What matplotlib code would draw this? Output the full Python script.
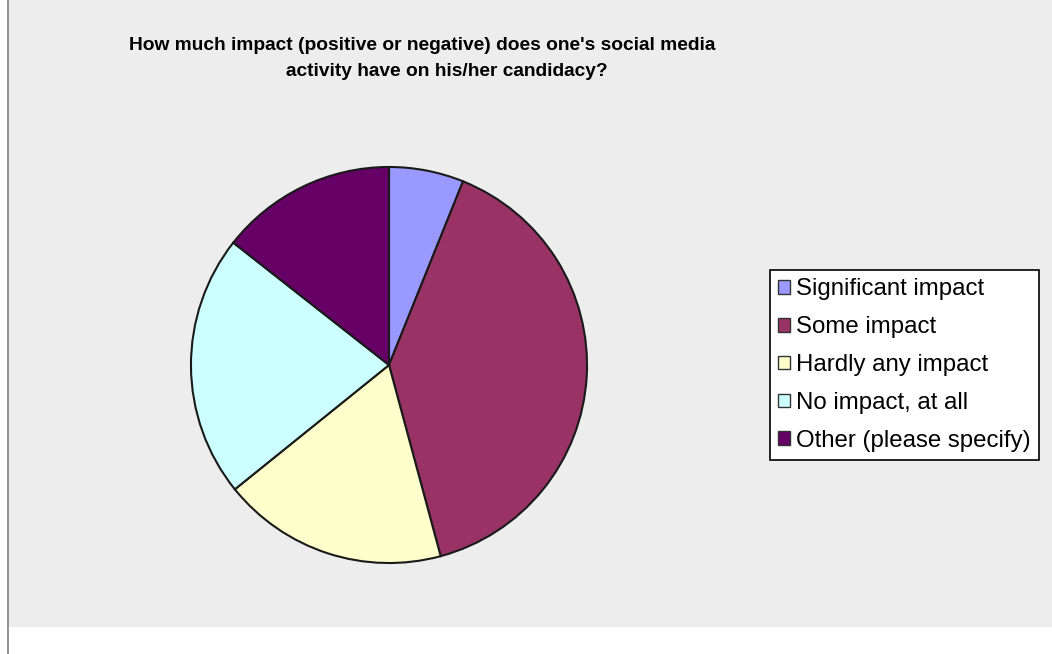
import matplotlib.pyplot as plt
from matplotlib.patches import Rectangle
from matplotlib.lines import Line2D

# survey shares (percent)
labels = ["Significant impact", "Some impact", "Hardly any impact",
          "No impact, at all", "Other (please specify)"]
shares = [6.1, 39.7, 18.4, 21.4, 14.4]
colors = ["#9999FF", "#993366", "#FFFFCC", "#CCFFFF", "#660066"]
title_lines = ["How much impact (positive or negative) does one's social media",
               "activity have on his/her candidacy?"]

W, H = 1052, 654
fig = plt.figure(figsize=(W / 100, H / 100), dpi=100)
fig.patch.set_facecolor("white")

# gray chart area and left border line
fig.add_artist(Rectangle((8 / W, 1 - 627 / H), 1 - 8 / W, 627 / H,
                         transform=fig.transFigure, facecolor="#EDEDED",
                         edgecolor="none", zorder=0))
fig.add_artist(Line2D([8 / W, 8 / W], [0, 1], transform=fig.transFigure,
                      color="#808080", lw=1.2, zorder=1))

# title, two lines (each centred where it sits in the original)
for txt, cx, cy in zip(title_lines, [422, 447], [46, 72]):
    fig.text(cx / W, 1 - cy / H, txt, ha="center", va="center",
             fontsize=13.8, fontweight="bold", family="Liberation Sans")

ax = fig.add_axes([189 / W, 1 - 565 / H, 400 / W, 400 / H])
wedges, _ = ax.pie(shares, colors=colors, startangle=90, counterclock=False,
                   wedgeprops=dict(edgecolor="#1a1a1a", linewidth=1.5))
ax.set_xlim(-1.01, 1.01)
ax.set_ylim(-1.01, 1.01)
ax.set_aspect("auto")
ax.axis("off")

leg = fig.legend(wedges, labels, loc="upper left",
                 bbox_to_anchor=(770 / W, 1 - 270 / H),
                 prop=dict(family="Liberation Sans", size=17.3),
                 frameon=True, fancybox=False, edgecolor="black",
                 facecolor="white", framealpha=1,
                 handlelength=0.5, handleheight=0.5, handletextpad=0.22,
                 labelspacing=0.66, borderpad=0.35, borderaxespad=0)
leg.get_frame().set_linewidth(1.2)
for h in leg.legend_handles:
    h.set_linewidth(1.0)
    h.set_edgecolor("#333333")

fig.savefig("out.png", dpi=100)
